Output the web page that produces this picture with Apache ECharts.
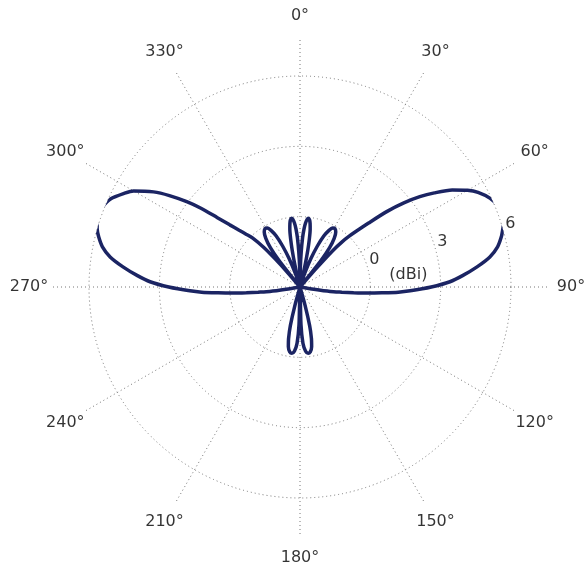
<!DOCTYPE html>
<html>
<head>
<meta charset="utf-8">
<script src="https://cdn.jsdelivr.net/npm/echarts@6/dist/echarts.min.js"></script>
<style>
html,body{margin:0;padding:0;background:#fff;}
#chart{width:587px;height:571px;}
</style>
</head>
<body>
<div id="chart"></div>
<script>
// Radiation pattern: azimuth (deg, clockwise from north) and gain (dBi); -3 = plot centre (clipped)
const angleDeg = [
  0,1,2,3,4,5,6,7,8,9,10,11,12,13,14,15,
  17,19,21,23,25,27,29,31,33,35,37,38.5,40,
  41,42,43,44,45,47,49,51,53,55,57.5,60,62,65,68,70,72,74,76,78.5,81,83.5,86,88,90,
  92,93,94,95,96,97,98.5,99.5,100.5,
  163,164.5,166,167.5,169,171,173,175,177,178.5,180,
  181.5,183,185,187,189,191,192.5,194,195.5,197,
  259.5,260.5,261.5,263,264,265,266,267,268,270,272,274,276.5,279,281.5,284,286,288,290,292,295,298,300,303,305,307,308.5,310,311.5,313,314.5,316,317.5,318.5,319.5,320.5,
  321.5,323,325,327,329,331,333,335,337,339,341,343,
  345,346,347,348,349,350,351,352,353,354,355,356,357,358,359,360
];
const gainDbi = [
  -3,-2.2,-1.5,-0.9,-0.5,-0.25,-0.1,-0.05,-0.1,-0.25,-0.5,-0.9,-1.4,-2.0,-2.6,-3,
  -3,-2.4,-1.7,-1.1,-0.6,-0.3,-0.12,-0.1,-0.2,-0.45,-0.9,-1.6,-3,
  -2.0,-0.9,-0.35,0.0,0.3,1.0,1.9,2.7,3.4,4.0,4.7,5.25,5.6,5.95,6.15,6.2,6.15,6.0,5.85,5.6,5.2,4.6,3.95,3.4,2.6,
  1.7,1.2,0.5,-0.1,-0.7,-1.2,-1.7,-2.4,-3,
  -3,-2.2,-1.3,-0.75,-0.4,-0.2,-0.15,-0.25,-0.6,-1.4,-3,
  -1.4,-0.6,-0.25,-0.15,-0.2,-0.4,-0.75,-1.3,-2.2,-3,
  -3,-2.4,-1.7,-1.2,-0.7,-0.1,0.5,1.2,1.7,2.6,3.4,3.95,4.6,5.2,5.6,5.85,6.0,6.1,6.15,6.1,5.9,5.5,5.2,4.45,3.8,3.05,2.4,1.6,1.0,0.55,0.2,-0.1,-0.7,-1.4,-2.2,-3,
  -1.6,-0.9,-0.45,-0.2,-0.1,-0.12,-0.3,-0.6,-1.1,-1.7,-2.4,-3,
  -3,-2.6,-2.0,-1.4,-0.9,-0.5,-0.25,-0.1,-0.05,-0.1,-0.25,-0.5,-0.9,-1.5,-2.2,-3
];
const angleTicks = [0,30,60,90,120,150,180,210,240,270,300,330];
const angleTickLabels = ['0°','30°','60°','90°','120°','150°','180°','210°','240°','270°','300°','330°'];
const radiusTicks = [0,3,6];
const radiusTickLabels = ['0','3','6'];
const unitLabel = '(dBi)';
const unitPos = [1.65, 83.7]; // [dBi, deg]
const radiusMin = -3, radiusMax = 6;

const FONT = 'DejaVu Sans';
const gridStyle = {color:'#777', width:1, type:[1,3]};
const C = [300, 287];

const patternData = angleDeg.map((a,i)=>[gainDbi[i], a]);
const rLabelData = radiusTicks.map((v,i)=>({value:[v, 75], label:{formatter: radiusTickLabels[i], offset:[6.5,-9]}}));
rLabelData.push({value:[unitPos[0], unitPos[1]], label:{formatter: unitLabel, offset:[0,0]}});
const aLabelData = angleTicks.map((a,i)=>({value:[1, a], label:{formatter: angleTickLabels[i]}}));

const chart = echarts.init(document.getElementById('chart'), null, {renderer:'canvas'});
chart.setOption({
  animation:false,
  backgroundColor:'#fff',
  polar:[
    {center:C, radius:211},
    {center:C, radius:247},
    {center:C, radius:271}
  ],
  angleAxis:[
    {polarIndex:0, type:'value', min:0, max:360, interval:30, startAngle:90, clockwise:true,
     axisLine:{show:false}, axisTick:{show:false}, axisLabel:{show:false}, splitLine:{show:false}},
    {polarIndex:1, type:'value', min:0, max:360, interval:30, startAngle:90, clockwise:true,
     axisLine:{show:false}, axisTick:{show:false}, axisLabel:{show:false}, splitLine:{show:true, lineStyle:gridStyle}},
    {polarIndex:2, type:'value', min:0, max:360, interval:30, startAngle:90, clockwise:true,
     axisLine:{show:false}, axisTick:{show:false}, axisLabel:{show:false}, splitLine:{show:false}}
  ],
  radiusAxis:[
    {polarIndex:0, type:'value', min:radiusMin, max:radiusMax, interval:3,
     axisLine:{show:false}, axisTick:{show:false}, axisLabel:{show:false}, splitLine:{show:true, lineStyle:gridStyle}},
    {polarIndex:1, type:'value', min:0, max:1, show:false, splitLine:{show:false}},
    {polarIndex:2, type:'value', min:0, max:1, show:false, splitLine:{show:false}}
  ],
  series:[
    {type:'line', coordinateSystem:'polar', polarIndex:0, data:patternData, symbol:'none', smooth:0.25, clip:false,
     lineStyle:{color:'#1b2463', width:3.5}, z:5},
    {type:'scatter', coordinateSystem:'polar', polarIndex:0, data:rLabelData, symbolSize:1, clip:false,
     itemStyle:{color:'rgba(0,0,0,0)'},
     label:{show:true, position:'inside', color:'#000', fontFamily:FONT, fontSize:16}, z:6},
    {type:'scatter', coordinateSystem:'polar', polarIndex:2, data:aLabelData, symbolSize:1, clip:false,
     itemStyle:{color:'rgba(0,0,0,0)'},
     label:{show:true, position:'inside', color:'#000', fontFamily:FONT, fontSize:16}, z:6}
  ]
});
</script>
</body>
</html>
